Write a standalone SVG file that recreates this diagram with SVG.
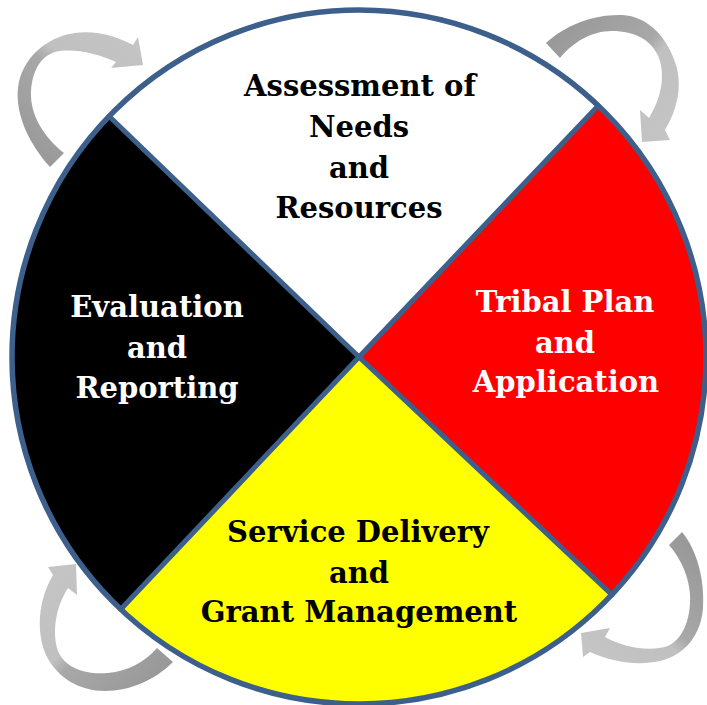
<svg xmlns="http://www.w3.org/2000/svg" width="707" height="705" viewBox="0 0 707 705">
  <style>
    .lbl { font-family: "DejaVu Serif", "Liberation Serif", serif; font-weight: bold; font-size: 29px; text-anchor: middle; }
    .dark { fill: #000000; }
    .light { fill: #ffffff; }
    .rim { fill: none; stroke: #3C5F8C; stroke-width: 5.5; }
    .div { stroke: #3C5F8C; stroke-width: 5; stroke-linecap: round; }
  </style>
  <defs>
    <linearGradient id="gTL" gradientUnits="userSpaceOnUse" x1="40" y1="160" x2="140" y2="40">
      <stop offset="0" stop-color="#999999"/>
      <stop offset="0.5" stop-color="#a8a8a8"/>
      <stop offset="0.6" stop-color="#c0c0c0"/>
      <stop offset="1" stop-color="#c4c4c4"/>
    </linearGradient>
    <linearGradient id="gTR" gradientUnits="userSpaceOnUse" x1="550" y1="40" x2="660" y2="140">
      <stop offset="0" stop-color="#999999"/>
      <stop offset="0.5" stop-color="#a8a8a8"/>
      <stop offset="0.6" stop-color="#c0c0c0"/>
      <stop offset="1" stop-color="#c4c4c4"/>
    </linearGradient>
    <linearGradient id="gBL" gradientUnits="userSpaceOnUse" x1="165" y1="665" x2="60" y2="570">
      <stop offset="0" stop-color="#999999"/>
      <stop offset="0.5" stop-color="#a8a8a8"/>
      <stop offset="0.6" stop-color="#c0c0c0"/>
      <stop offset="1" stop-color="#c4c4c4"/>
    </linearGradient>
    <linearGradient id="gBR" gradientUnits="userSpaceOnUse" x1="680" y1="540" x2="585" y2="645">
      <stop offset="0" stop-color="#999999"/>
      <stop offset="0.5" stop-color="#a8a8a8"/>
      <stop offset="0.6" stop-color="#c0c0c0"/>
      <stop offset="1" stop-color="#c4c4c4"/>
    </linearGradient>
  </defs>
  <rect width="707" height="705" fill="#ffffff"/>

  <g id="connectors">
    <path fill="url(#gTL)" d="M50,167 C30,145 15,115 18,88 C21,60 45,37 75,33 C97,30 118,37 133,45 L138,37 L143,65 L111,68 L116,62 C98,54 78,49 60,51 C42,53 32,70 31,92 C30,115 44,137 64,153 Z"/>
    <path fill="url(#gTR)" d="M546,43 C565,25 595,14 622,15 C648,16 668,38 676,65 C683,88 676,112 665,130 L670,140 L642,142 L640,110 L649,118 C660,100 666,78 659,58 C652,40 635,31 612,31 C592,31 573,42 560,58 Z"/>
    <path fill="url(#gBL)" d="M53,575 L48,567 L76,564 L77,595 L68,588 C57,605 52,628 57,648 C63,668 85,675 108,673 C128,671 145,662 157,648 L173,662 C155,680 130,691 105,691 C80,691 57,678 46,655 C36,632 38,600 53,575 Z"/>
    <path fill="url(#gBR)" d="M682,532 C697,550 705,580 703,608 C701,635 685,655 660,661 C638,666 612,662 590,652 L583,657 L581,633 L610,628 L605,637 C625,648 650,652 668,646 C685,638 691,615 690,595 C689,578 682,560 669,545 Z"/>
  </g>

  <g id="assessment">
    <path fill="#ffffff" d="M359,357 L109.1,116.2 A347,347 0 0 1 598.2,105.7 Z"/>
    <text class="lbl dark" x="360" y="96">Assessment of</text>
    <text class="lbl dark" x="359" y="137">Needs</text>
    <text class="lbl dark" x="359" y="178">and</text>
    <text class="lbl dark" x="359" y="218">Resources</text>
  </g>
  <g id="tribal-plan">
    <path fill="#ff0000" d="M359,357 L598.2,105.7 A347,347 0 0 1 611.8,594.7 Z"/>
    <text class="lbl light" x="565" y="312">Tribal Plan</text>
    <text class="lbl light" x="565" y="353">and</text>
    <text class="lbl light" x="566" y="392">Application</text>
  </g>
  <g id="service-delivery">
    <path fill="#ffff00" d="M359,357 L611.8,594.7 A347,347 0 0 1 120.8,609.3 Z"/>
    <text class="lbl dark" x="358" y="542">Service Delivery</text>
    <text class="lbl dark" x="359" y="583">and</text>
    <text class="lbl dark" x="359" y="622">Grant Management</text>
  </g>
  <g id="evaluation">
    <path fill="#000000" d="M359,357 L120.8,609.3 A347,347 0 0 1 109.1,116.2 Z"/>
    <text class="lbl light" x="157" y="317">Evaluation</text>
    <text class="lbl light" x="157" y="358">and</text>
    <text class="lbl light" x="157" y="398">Reporting</text>
  </g>

  <g id="outline">
    <line class="div" x1="359" y1="357" x2="109.1" y2="116.2"/>
    <line class="div" x1="359" y1="357" x2="598.2" y2="105.7"/>
    <line class="div" x1="359" y1="357" x2="611.8" y2="594.7"/>
    <line class="div" x1="359" y1="357" x2="120.8" y2="609.3"/>
    <circle class="rim" cx="359" cy="357" r="347"/>
  </g>
</svg>
